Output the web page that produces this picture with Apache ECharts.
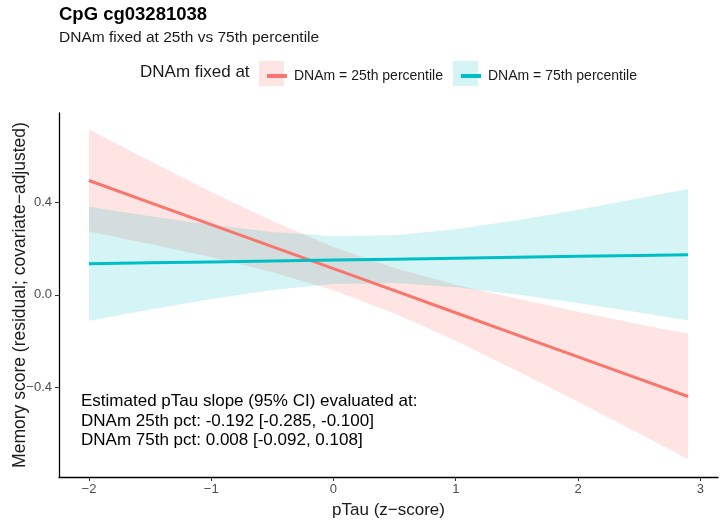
<!DOCTYPE html>
<html>
<head>
<meta charset="utf-8">
<script src="https://cdn.jsdelivr.net/npm/echarts@6/dist/echarts.min.js"></script>
<style>
  html, body { margin: 0; padding: 0; background: #fff; }
  #chartBox { width: 720px; height: 520px; }
</style>
</head>
<body>
<div id="chartBox"></div>
<script>
const ptau = [-2, -1.5, -1, -0.5, 0, 0.5, 1, 1.5, 2, 2.5, 2.9]

// DNAm = 25th percentile
const fit25 = [0.493, 0.398, 0.303, 0.208, 0.113, 0.018, -0.077, -0.172, -0.267, -0.362, -0.438]
const lo25 = [0.273, 0.219, 0.162, 0.098, 0.020, -0.080, -0.198, -0.327, -0.461, -0.598, -0.708]
const hi25 = [0.713, 0.577, 0.444, 0.319, 0.206, 0.116, 0.044, -0.017, -0.073, -0.127, -0.168]

// DNAm = 75th percentile
const fit75 = [0.134, 0.138, 0.142, 0.146, 0.150, 0.154, 0.158, 0.162, 0.166, 0.170, 0.173]
const lo75 = [-0.112, -0.063, -0.018, 0.021, 0.047, 0.051, 0.033, 0.002, -0.035, -0.076, -0.110]
const hi75 = [0.380, 0.339, 0.302, 0.271, 0.253, 0.257, 0.283, 0.322, 0.367, 0.416, 0.456]

const xTicks = [-2, -1, 0, 1, 2, 3]
const yTicks = [-0.4, 0, 0.4]

const label25 = 'DNAm = 25th percentile'
const label75 = 'DNAm = 75th percentile'
const annotation = [
  'Estimated pTau slope (95% CI) evaluated at:',
  'DNAm 25th pct: -0.192 [-0.285, -0.100]',
  'DNAm 75th pct: 0.008 [-0.092, 0.108]'
]

const RED = '#F8766D'
const TEAL = '#00BFC4'
const FONT = "'Liberation Sans', Arial, sans-serif"

const minus = s => String(s).replace('-', '\u2212')

// ribbon drawn as one polygon: upper edge left->right, lower edge back
function band (lo, hi, fill) {
  const rows = ptau.map((x, i) => [x, lo[i], hi[i]])
  return {
    type: 'custom',
    silent: true,
    data: rows,
    encode: { x: 0, y: [1, 2] },
    renderItem (params, api) {
      if (params.dataIndex !== 0) return
      const top = rows.map(r => api.coord([r[0], r[2]]))
      const bottom = rows.map(r => api.coord([r[0], r[1]])).reverse()
      return {
        type: 'polygon',
        shape: { points: top.concat(bottom) },
        style: { fill: fill }
      }
    }
  }
}

let myChart = echarts.init(document.getElementById('chartBox'))
myChart.setOption({
  animation: false,
  textStyle: { fontFamily: FONT },
  title: {
    text: 'CpG cg03281038',
    subtext: 'DNAm fixed at 25th vs 75th percentile',
    left: 54,
    top: 0,
    itemGap: 6,
    textStyle: { fontSize: 18.5, fontWeight: 'bold', color: '#000', fontFamily: FONT },
    subtextStyle: { fontSize: 15.5, color: '#1a1a1a', fontFamily: FONT }
  },
  legend: [
    {
      data: [label25],
      left: 262,
      top: 64,
      icon: 'rect',
      itemWidth: 20,
      itemHeight: 4,
      textStyle: { fontSize: 14, color: '#1a1a1a', padding: [0, 0, 0, 2] }
    },
    {
      data: [label75],
      left: 456,
      top: 64,
      icon: 'rect',
      itemWidth: 20,
      itemHeight: 4,
      textStyle: { fontSize: 14, color: '#1a1a1a', padding: [0, 0, 0, 2] }
    }
  ],
  graphic: [
    { type: 'text', left: 140, top: 64, style: { text: 'DNAm fixed at', fontSize: 17, fill: '#1a1a1a', fontFamily: FONT } },
    { type: 'rect', shape: { x: 259, y: 61, width: 25, height: 25 }, style: { fill: 'rgba(248,118,109,0.2)' } },
    { type: 'rect', shape: { x: 453, y: 61, width: 25, height: 25 }, style: { fill: 'rgba(0,191,196,0.17)' } },
    {
      type: 'text',
      left: 81,
      top: 392,
      z: 10,
      style: { text: annotation.join('\n'), fontSize: 17, lineHeight: 19.5, fill: '#000', fontFamily: FONT }
    }
  ],
  grid: {
    left: 59,
    right: 2,
    top: 113,
    bottom: 43,
    outerBoundsMode: 'none'
  },
  xAxis: {
    type: 'value',
    min: -2.245,
    max: 3.145,
    name: 'pTau (z\u2212score)',
    nameLocation: 'middle',
    nameGap: 25,
    nameMoveOverlap: false,
    nameTextStyle: { fontSize: 17, color: '#1a1a1a' },
    axisLine: { onZero: false, lineStyle: { color: '#000', width: 1.3 } },
    axisTick: { show: true, length: 4, lineStyle: { color: '#333' }, customValues: xTicks },
    axisLabel: { fontSize: 13, color: '#4d4d4d', margin: 6, customValues: xTicks, formatter: v => minus(v) },
    splitLine: { show: false }
  },
  yAxis: {
    type: 'value',
    min: -0.785,
    max: 0.784,
    name: 'Memory score (residual; covariate\u2212adjusted)',
    nameLocation: 'middle',
    nameGap: 30,
    nameMoveOverlap: false,
    nameTextStyle: { fontSize: 17.5, color: '#1a1a1a' },
    axisLine: { show: true, onZero: false, lineStyle: { color: '#000', width: 1.3 } },
    axisTick: { show: true, length: 4, lineStyle: { color: '#333' }, customValues: yTicks },
    axisLabel: { fontSize: 13, color: '#4d4d4d', margin: 7, customValues: yTicks, formatter: v => minus(v.toFixed(1)) },
    splitLine: { show: false }
  },
  series: [
    band(lo25, hi25, 'rgba(248,118,109,0.2)'),
    band(lo75, hi75, 'rgba(0,191,196,0.17)'),
    {
      name: label25,
      type: 'line',
      data: ptau.map((x, i) => [x, fit25[i]]),
      showSymbol: false,
      color: RED,
      lineStyle: { width: 3, color: RED },
      z: 3
    },
    {
      name: label75,
      type: 'line',
      data: ptau.map((x, i) => [x, fit75[i]]),
      showSymbol: false,
      color: TEAL,
      lineStyle: { width: 3, color: TEAL },
      z: 4
    }
  ]
})
</script>
</body>
</html>
